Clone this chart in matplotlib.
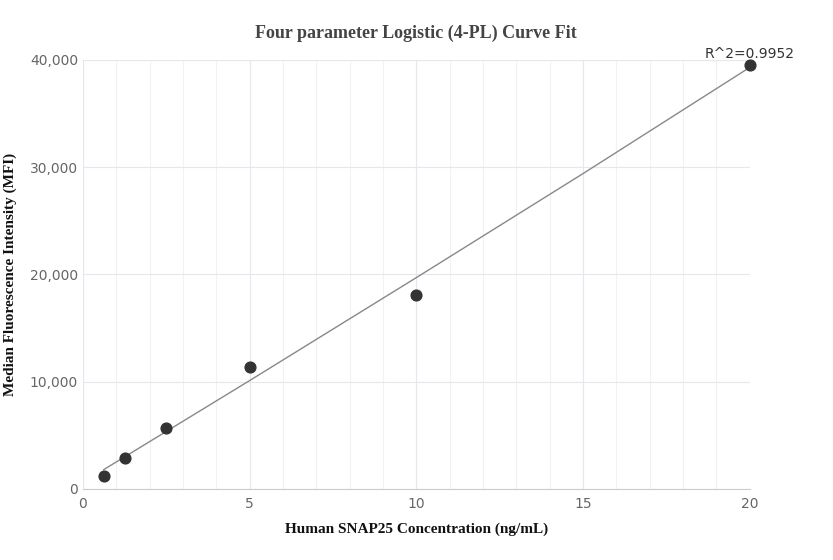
import matplotlib.pyplot as plt
from matplotlib.ticker import FuncFormatter, MultipleLocator

# Standard points
conc = [0.625, 1.25, 2.5, 5, 10, 20]
mfi = [1200, 2900, 5700, 11400, 18100, 39500]

# Fitted curve
fit_x = [0.625, 5, 10, 15, 20]
fit_y = [1800, 10100, 19700, 29400, 39300]

x_ticks = [0, 5, 10, 15, 20]
y_ticks = [0, 10000, 20000, 30000, 40000]

fig = plt.figure(figsize=(8.33, 5.6), dpi=100)
ax = fig.add_axes([0.0996, 0.127, 0.8004, 0.766])

ax.plot(fit_x, fit_y, color='#888888', linewidth=1, zorder=2)
ax.scatter(conc, mfi, s=60, color='#333333', zorder=3, clip_on=False)

ax.set_xlim(0, 20)
ax.set_ylim(0, 40000)
ax.set_xticks(x_ticks)
ax.set_yticks(y_ticks)
ax.xaxis.set_minor_locator(MultipleLocator(1))
ax.yaxis.set_major_formatter(FuncFormatter(lambda v, p: f'{int(v):,}'))
ax.grid(True, which='major', color='#e3e8ef', linewidth=0.8)
ax.grid(True, which='minor', axis='x', color='#f0f2f6', linewidth=0.8)
ax.set_axisbelow(True)

for s in ['top', 'right']:
    ax.spines[s].set_visible(False)
ax.spines['left'].set_visible(False)
ax.spines['bottom'].set_color('#cccccc')
ax.tick_params(which='both', length=0, colors='#666666', labelsize=10)
ax.tick_params(axis='x', pad=6)

ax.text(20, 39900, 'R^2=0.9952', ha='center', va='bottom', fontsize=10, color='#333333')

serif = 'Liberation Serif'
ax.set_title('Four parameter Logistic (4-PL) Curve Fit', fontfamily=serif,
             fontweight='bold', fontsize=13, color='#444444', pad=16)
ax.set_xlabel('Human SNAP25 Concentration (ng/mL)', fontfamily=serif,
              fontweight='bold', fontsize=11, color='#111111', labelpad=8)
fig.text(0.012, 0.51, 'Median Fluorescence Intensity (MFI)', fontfamily=serif,
         fontweight='bold', fontsize=11, color='#111111', rotation=90,
         ha='center', va='center')

fig.savefig('out.png', dpi=100)
